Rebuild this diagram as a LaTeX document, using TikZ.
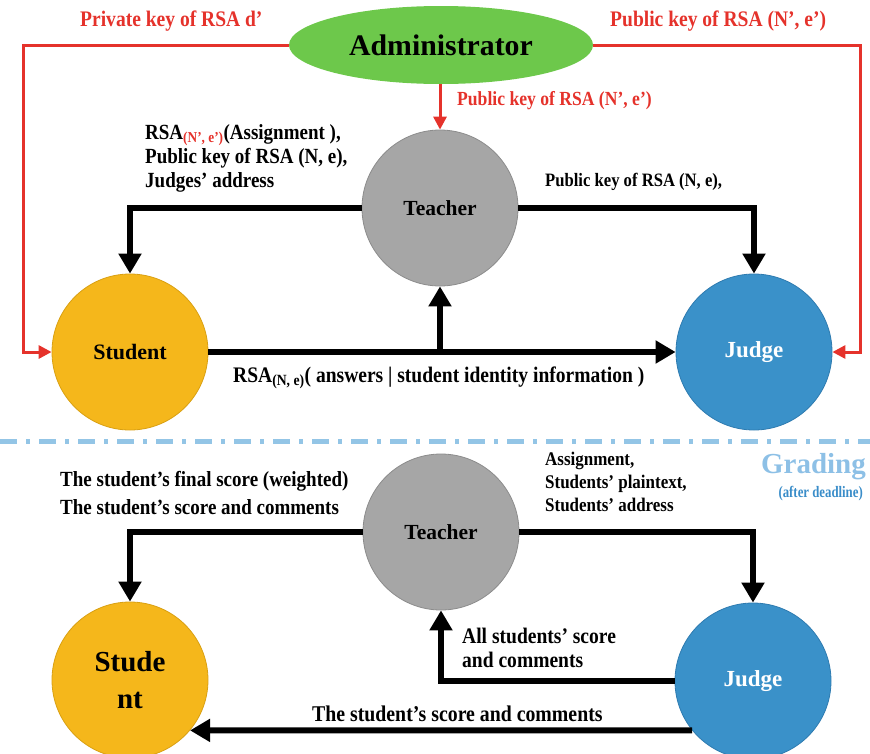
\documentclass[tikz,border=0pt]{standalone}
\usepackage{fontspec}
\setmainfont{Liberation Serif}
\newfontfamily\condserif{Liberation Serif}[FakeStretch=0.88]
\newfontfamily\narrowserif{Liberation Serif}[FakeStretch=0.8]
\usetikzlibrary{arrows.meta,shapes.geometric}

\definecolor{admgreen}{HTML}{6DC84B}
\definecolor{keyred}{HTML}{E5322B}
\definecolor{tgray}{HTML}{A6A6A6}
\definecolor{tgrayedge}{HTML}{8C8C8C}
\definecolor{sorange}{HTML}{F5B71B}
\definecolor{sorangeedge}{HTML}{D9A012}
\definecolor{jblue}{HTML}{3A91C9}
\definecolor{jblueedge}{HTML}{2E7BB0}
\definecolor{sepblue}{HTML}{93C5E6}
\definecolor{gradlight}{HTML}{8DC0E6}
\definecolor{graddark}{HTML}{3A8DC9}

% text at a given size, baseline skip 1.2 times the size
\newcommand{\fsz}[1]{\fontsize{#1}{1.2\dimexpr #1pt\relax}\selectfont}

\tikzset{
  roleteacher/.style={circle, minimum size=156pt, inner sep=0pt, fill=tgray, draw=tgrayedge, line width=0.8pt,
    font=\bfseries\fsz{21.5}},
  rolestudent/.style={circle, minimum size=156pt, inner sep=0pt, fill=sorange, draw=sorangeedge, line width=0.8pt,
    font=\bfseries\fsz{22}},
  rolejudge/.style={circle, minimum size=156pt, inner sep=0pt, fill=jblue, draw=jblueedge, line width=0.8pt,
    text=white, font=\bfseries\fsz{23}},
  flow/.style={line width=6pt, -{Triangle[length=20pt,width=22pt]}},
  keyflow/.style={line width=3pt, draw=keyred, -{Triangle[length=13pt,width=13pt]}},
  lbl/.style={inner sep=0pt, font=\condserif\bfseries\fsz{21.6}, align=left},
  keylbl/.style={inner sep=0pt, text=keyred, font=\condserif\bfseries\fsz{22.2}},
}

\begin{document}
\begin{tikzpicture}[x=1pt,y=-1pt]
\useasboundingbox (0,0) rectangle (870,753);

% ---------- key distribution and submission ----------
\node[ellipse, minimum width=304pt, minimum height=78pt, inner sep=0pt, fill=admgreen,
      font=\bfseries\fsz{29.8}] (adm) at (441,45) {Administrator};

\node[roleteacher] (tea) at (440,208) {Teacher};
\node[rolestudent] (stu) at (130,352) {Student};
\node[rolejudge]   (jud) at (754,352) {Judge};

\coordinate (kl) at (23,352);
\coordinate (kr) at (860,352);
\draw[keyflow] (adm.west) -| (kl) -- (stu.west);
\draw[keyflow] (adm.east) -| (kr) -- (jud.east);
\draw[keyflow] (adm.south -| tea.north) -- (tea.north);

\node[keylbl, anchor=west] (lpriv) at (80,21) {Private key of RSA d’};
\node[keylbl, anchor=west] (lpubr) at (610,21) {Public key of RSA (N’, e’)};
\node[keylbl, anchor=west, font=\condserif\bfseries\fsz{20}] (lpubt) at (457,101) {Public key of RSA (N’, e’)};

\draw[flow] (tea.west) -| (stu.north);
\draw[flow] (tea.east) -| (jud.north);
\draw[flow] (stu.east) -- (jud.west);
\coordinate (sub) at (440,352);
\draw[flow] (sub) -- (tea.south);

\node[lbl, anchor=north west] (lsend) at (145,124)
  {RSA\textsubscript{\color{keyred}(N’, e’)}(Assignment ),\\[-2pt]
   Public key of RSA (N, e),\\[-2pt]
   Judges’ address};
\node[lbl, anchor=west, font=\condserif\bfseries\fsz{18.9}] (ljud) at (545,182) {Public key of RSA (N, e),};
\node[lbl, anchor=west, font=\condserif\bfseries\fsz{22.2}] (lans) at (233,378)
  {RSA\textsubscript{(N, e)}( answers | student identity information )};

% ---------- separator ----------
\coordinate (sepl) at (0,441);
\coordinate (sepr) at (870,441);
\draw[sepblue, line width=5pt, dash pattern=on 17pt off 9pt on 4pt off 9pt] (sepl) -- (sepr);

\node[inner sep=0pt, anchor=east, text=gradlight, font=\bfseries\fsz{29}] (lgrad) at (866,467) {Grading};
\node[inner sep=0pt, anchor=east, text=graddark, font=\narrowserif\bfseries\fsz{16}] (ldead) at (863,494) {(after deadline)};

% ---------- grading ----------
\node[roleteacher] (tea2) at (441,532) {Teacher};
\node[rolestudent, font=\bfseries\fsz{29}, align=center] (stu2) at (130,680) {Stude\\[2pt]nt};
\node[rolejudge] (jud2) at (753,681) {Judge};

\draw[flow] (tea2.west) -| (stu2.north);
\draw[flow] (tea2.east) -| (jud2.north);
\draw[flow] (jud2.west) -| (tea2.south);
\draw[flow] (jud2.219) -- (stu2.320);

\node[lbl, anchor=west] (lfin) at (60,481) {The student’s final score (weighted)};
\node[lbl, anchor=west] (lsc) at (60,507) {The student’s score and comments};
\node[lbl, anchor=north west, font=\condserif\bfseries\fsz{19.3}] (lasg) at (545,452)
  {Assignment,\\[0pt] Students’ plaintext,\\[0pt] Students’ address};
\node[lbl, anchor=north west, font=\condserif\bfseries\fsz{22.2}] (lall) at (462,627.5)
  {All students’ score\\[-2.6pt] and comments};
\node[lbl, anchor=west, font=\condserif\bfseries\fsz{22.5}] (lret) at (312,714) {The student’s score and comments};
\end{tikzpicture}
\end{document}
